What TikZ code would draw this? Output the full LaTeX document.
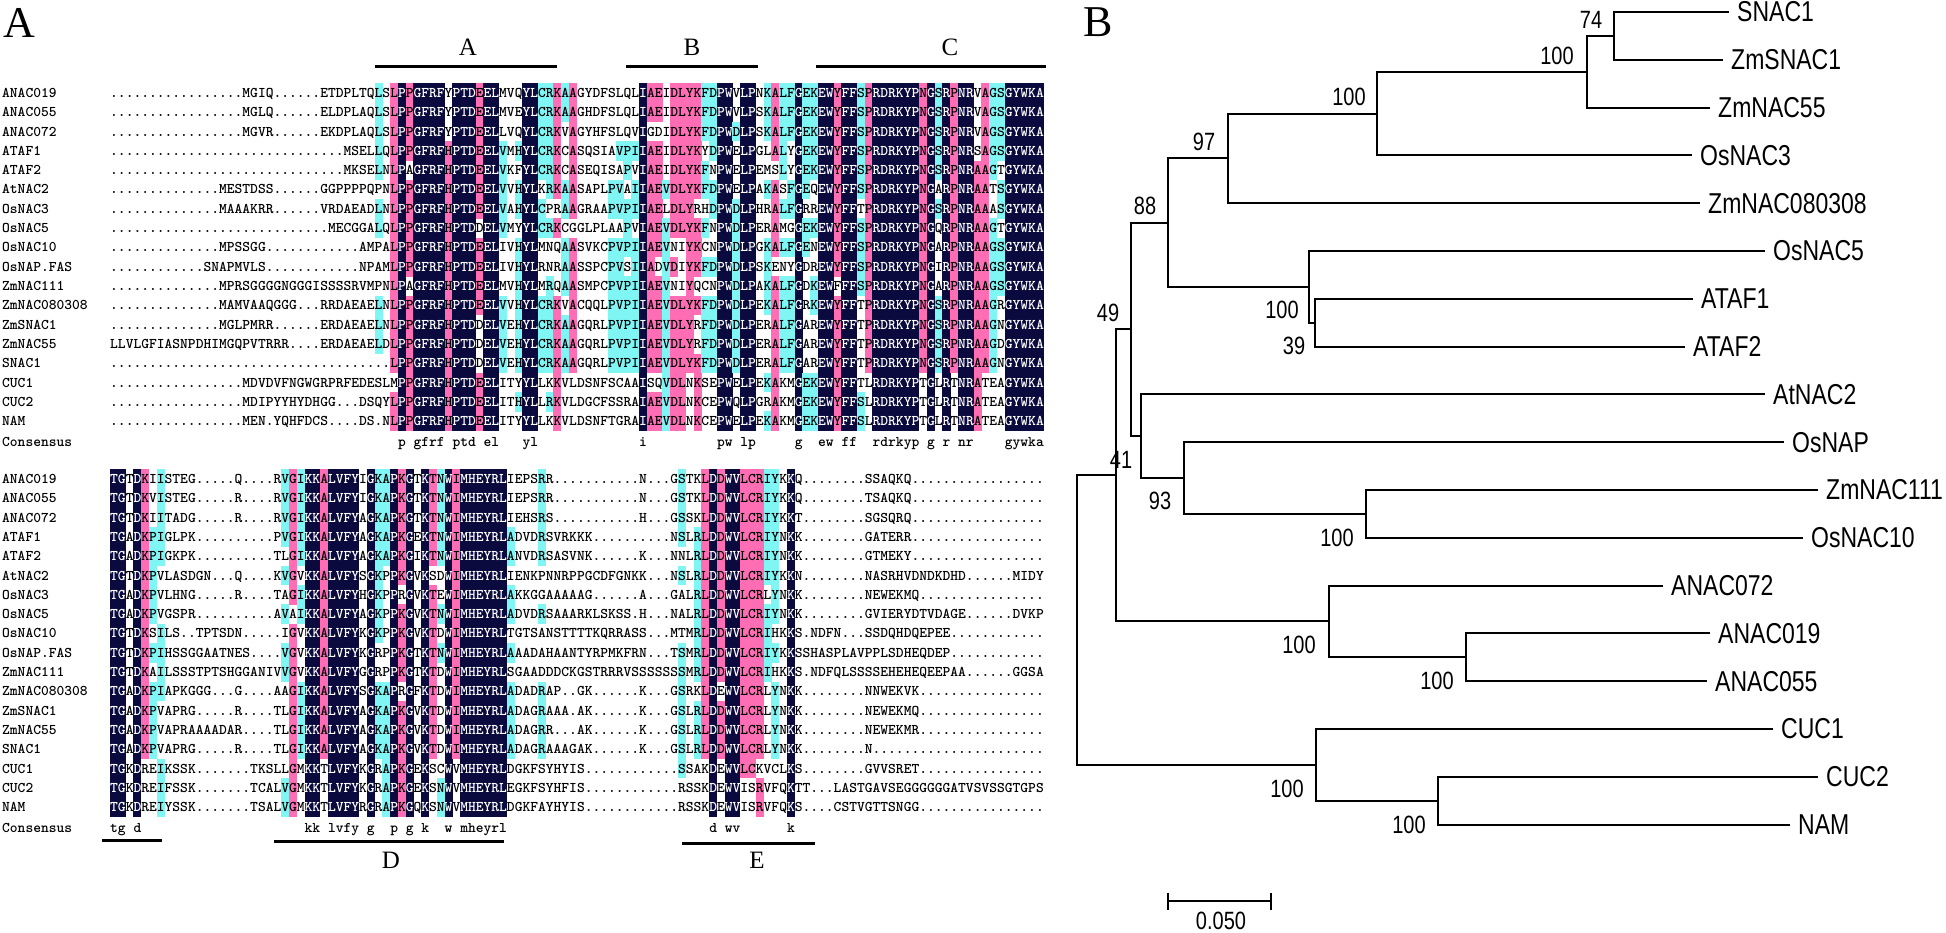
\documentclass[tikz,border=0pt]{standalone}
\usepackage{graphicx}
\usepackage{fontspec}
\newfontfamily\sanslab{Liberation Sans}
\newfontfamily\seriflab{Liberation Serif}
\definecolor{alnclsn}{HTML}{0A0A3E}
\definecolor{alnclsp}{HTML}{FF6EB4}
\definecolor{alnclsc}{HTML}{7FF6F4}
\newlength\AlnPitchLen
\setlength\AlnPitchLen{7.78pt}
\def\AlnPitch{7.78}
\def\AlnRowH{19.3}
\def\AlnBase{14.15}
\newcommand\alnfont{\fontsize{14.8}{16}\selectfont\ttfamily\bfseries}
\newcommand\AlnCh[1]{\makebox[\AlnPitchLen][c]{#1}}
\newcommand\AlnChW[1]{\makebox[\AlnPitchLen][c]{\color{white}#1}}
\newcommand\tallt[1]{\scalebox{1}[1.25]{#1}}
\newcounter{alnnode}
\tikzset{
  alntext/.style={anchor=base west,inner sep=0pt,font=\alnfont},
  tree/.style={line width=2pt},
  tiplab/.style={anchor=west,inner sep=0pt,font=\sanslab\fontsize{23}{24}\selectfont},
  boot/.style={inner sep=0pt,font=\sanslab\fontsize{20}{21}\selectfont},
  domline/.style={line width=3pt},
  domlab/.style={inner sep=0pt,font=\seriflab\fontsize{25}{26}\selectfont},
  panlab/.style={inner sep=0pt,font=\seriflab\fontsize{44}{44}\selectfont}
}
\newcommand\AlnFill[3]{\fill[#3] (#1,#2) rectangle ++(\AlnPitch+0.25,\AlnRowH+0.25);}
\newcommand\AlnText[3]{\stepcounter{alnnode}\node[alntext] (aln\arabic{alnnode}) at (#1,#2) {#3};}
\newcommand\AlnName[2]{\stepcounter{alnnode}\node[alntext] (aln\arabic{alnnode}) at (2,#1) {#2};}

\ExplSyntaxOn
\seq_new:N \g_aln_rows_seq
\seq_new:N \g_aln_names_seq
\seq_new:N \l_aln_colch_seq
\seq_new:N \l_aln_colcls_seq
\tl_new:N \l_aln_ch_tl
\tl_new:N \l_aln_cc_tl
\tl_new:N \l_aln_cls_tl
\tl_new:N \l_aln_col_tl
\tl_new:N \l_aln_text_tl
\tl_new:N \l_aln_x_tl
\tl_new:N \l_aln_y_tl
\tl_new:N \l_aln_maxch_tl
\tl_new:N \l_aln_tmp_tl
\int_new:N \l_aln_max_int
\int_new:N \l_aln_n_int
\int_new:N \l_aln_row_int
\bool_new:N \l_aln_hit_bool
\clist_const:Nn \c_aln_letters_clist {A,B,C,D,E,F,G,H,I,J,K,L,M,N,O,P,Q,R,S,T,U,V,W,X,Y,Z}

\cs_new:Npn \gp #1 { \prg_replicate:nn {#1} {.} }

\NewDocumentCommand \AlnReset { }
  { \seq_gclear:N \g_aln_rows_seq \seq_gclear:N \g_aln_names_seq }
\NewDocumentCommand \AlnAdd { m m }
  {
    \tl_set:Ne \l_aln_tmp_tl {#2}
    \tl_remove_all:Nn \l_aln_tmp_tl { ~ }
    \seq_gput_right:Nn \g_aln_names_seq {#1}
    \seq_gput_right:NV \g_aln_rows_seq \l_aln_tmp_tl
  }

\cs_new_protected:Npn \aln_compute:n #1
  {
    \seq_clear:N \l_aln_colch_seq
    \seq_clear:N \l_aln_colcls_seq
    \int_set:Nn \l_aln_n_int { \seq_count:N \g_aln_rows_seq }
    \int_step_inline:nn {#1}
      {
        \clist_map_inline:Nn \c_aln_letters_clist
          { \int_zero_new:c { l_aln_cnt_ ####1 _int } }
        \int_zero:N \l_aln_max_int
        \tl_clear:N \l_aln_maxch_tl
        \seq_map_inline:Nn \g_aln_rows_seq
          {
            \tl_set:Ne \l_aln_ch_tl { \tl_item:nn {####1} {##1} }
            \tl_if_empty:NF \l_aln_ch_tl
              {
                \str_if_eq:VnF \l_aln_ch_tl { . }
                  {
                    \int_incr:c { l_aln_cnt_ \l_aln_ch_tl _int }
                    \int_compare:nNnT
                      { \int_use:c { l_aln_cnt_ \l_aln_ch_tl _int } } > { \l_aln_max_int }
                      {
                        \int_set:Nn \l_aln_max_int
                          { \int_use:c { l_aln_cnt_ \l_aln_ch_tl _int } }
                        \tl_set_eq:NN \l_aln_maxch_tl \l_aln_ch_tl
                      }
                  }
              }
          }
        \int_compare:nNnTF { \l_aln_max_int } = { \l_aln_n_int }
          { \tl_set:Nn \l_aln_cls_tl { n } }
          {
            \int_compare:nNnTF { 4 * \l_aln_max_int } < { 3 * \l_aln_n_int }
              {
                \int_compare:nNnTF { 2 * \l_aln_max_int } < { \l_aln_n_int }
                  { \tl_set:Nn \l_aln_cls_tl { w } }
                  { \tl_set:Nn \l_aln_cls_tl { c } }
              }
              { \tl_set:Nn \l_aln_cls_tl { p } }
          }
        \seq_put_right:NV \l_aln_colch_seq \l_aln_maxch_tl
        \seq_put_right:NV \l_aln_colcls_seq \l_aln_cls_tl
      }
  }

\cs_new_protected:Npn \aln_render:nnnnn #1 #2 #3 #4 #5
  {
    \int_zero:N \l_aln_row_int
    \seq_map_inline:Nn \g_aln_rows_seq
      {
        \int_incr:N \l_aln_row_int
        \tl_set:Ne \l_aln_y_tl { \fp_eval:n { #3 + (\l_aln_row_int - 1) * #4 } }
        \tl_clear:N \l_aln_text_tl
        \int_step_inline:nn {#1}
          {
            \tl_set:Ne \l_aln_ch_tl { \tl_item:nn {##1} {####1} }
            \tl_set:Ne \l_aln_cc_tl { \seq_item:Nn \l_aln_colch_seq {####1} }
            \tl_set:Ne \l_aln_cls_tl { \seq_item:Nn \l_aln_colcls_seq {####1} }
            \bool_set_false:N \l_aln_hit_bool
            \tl_if_eq:NNT \l_aln_ch_tl \l_aln_cc_tl
              {
                \str_if_eq:VnF \l_aln_cls_tl { w }
                  { \tl_if_empty:NF \l_aln_ch_tl { \bool_set_true:N \l_aln_hit_bool } }
              }
            \bool_if:NTF \l_aln_hit_bool
              {
                \tl_set:Ne \l_aln_x_tl { \fp_eval:n { #2 + (####1 - 1) * \AlnPitch } }
                \tl_set:Ne \l_aln_col_tl { alncls \l_aln_cls_tl }
                \use:e { \exp_not:N \AlnFill { \l_aln_x_tl } { \l_aln_y_tl } { \l_aln_col_tl } }
                \str_if_eq:VnTF \l_aln_cls_tl { n }
                  { \tl_put_right:Ne \l_aln_text_tl { \exp_not:N \AlnChW { \l_aln_ch_tl } } }
                  { \tl_put_right:Ne \l_aln_text_tl { \exp_not:N \AlnCh { \l_aln_ch_tl } } }
              }
              { \tl_put_right:Ne \l_aln_text_tl { \exp_not:N \AlnCh { \l_aln_ch_tl } } }
          }
        \tl_set:Ne \l_aln_y_tl { \fp_eval:n { #3 + (\l_aln_row_int - 1) * #4 + \AlnBase } }
        \tl_set:Nn \l_aln_x_tl {#2}
        \use:e { \exp_not:N \AlnText { \l_aln_x_tl } { \l_aln_y_tl } { \exp_not:V \l_aln_text_tl } }
      }
    \seq_map_indexed_inline:Nn \g_aln_names_seq
      {
        \tl_set:Ne \l_aln_y_tl { \fp_eval:n { #3 + (##1 - 1) * #4 + \AlnBase } }
        \exp_args:NV \AlnName \l_aln_y_tl {##2}
      }
    \tl_clear:N \l_aln_text_tl
    \int_step_inline:nn {#1}
      {
        \tl_set:Ne \l_aln_cls_tl { \seq_item:Nn \l_aln_colcls_seq {##1} }
        \tl_set:Ne \l_aln_cc_tl { \seq_item:Nn \l_aln_colch_seq {##1} }
        \str_if_eq:VnTF \l_aln_cls_tl { n }
          { \tl_put_right:Ne \l_aln_text_tl { \exp_not:N \AlnCh { \exp_not:N \tex_lowercase:D { \l_aln_cc_tl } } } }
          { \tl_put_right:Nn \l_aln_text_tl { \AlnCh { } } }
      }
    \tl_set:Nn \l_aln_x_tl {#2}
    \tl_set:Nn \l_aln_y_tl {#5}
    \use:e { \exp_not:N \AlnText { \l_aln_x_tl } { \l_aln_y_tl } { \exp_not:V \l_aln_text_tl } }
    \exp_args:NV \AlnName \l_aln_y_tl {Consensus}
  }

\NewDocumentCommand \AlnDraw { m m m m m }
  { \aln_compute:n {#1} \aln_render:nnnnn {#1}{#2}{#3}{#4}{#5} }
\ExplSyntaxOff

\begin{document}
\begin{tikzpicture}[x=1pt,y=-1pt]
\fill[white] (0,0) rectangle (1946,933);
\useasboundingbox (0,0) rectangle (1946,933);

% ---------------- panel labels
\node[panlab] (panA) at (19,23) {A};
\node[panlab] (panB) at (1098,22) {B};

% ---------------- domain bars (top)
\coordinate (dA1) at (375,67); \coordinate (dA2) at (557,67);
\coordinate (dB1) at (626,67); \coordinate (dB2) at (758,67);
\coordinate (dC1) at (816,67); \coordinate (dC2) at (1046,67);
\draw[domline] (dA1) -- (dA2);
\draw[domline] (dB1) -- (dB2);
\draw[domline] (dC1) -- (dC2);
\node[domlab] (labA) at (468,47) {A};
\node[domlab] (labB) at (692,47) {B};
\node[domlab] (labC) at (950,47) {C};

% ---------------- block 1
\AlnReset
\AlnAdd{ANAC019}{\gp{17}MGIQ\gp{6}ETDPLTQLS LPPGFRFYPT DEELMVQYLC RKAAGYDFSL QLIAEIDLYK FDPWVLPNKA LFGEKEWYFF SPRDRKYPNG SRPNRVAGSG YWKA}
\AlnAdd{ANAC055}{\gp{17}MGLQ\gp{6}ELDPLAQLS LPPGFRFYPT DEELMVEYLC RKAAGHDFSL QLIAEIDLYK FDPWVLPSKA LFGEKEWYFF SPRDRKYPNG SRPNRVAGSG YWKA}
\AlnAdd{ANAC072}{\gp{17}MGVR\gp{6}EKDPLAQLS LPPGFRFYPT DEELLVQYLC RKVAGYHFSL QVIGDIDLYK FDPWDLPSKA LFGEKEWYFF SPRDRKYPNG SRPNRVAGSG YWKA}
\AlnAdd{ATAF1}{\gp{30}MSELLQ LPPGFRFHPT DEELVMHYLC RKCASQSIAV PIIAEIDLYK YDPWELPGLA LYGEKEWYFF SPRDRKYPNG SRPNRSAGSG YWKA}
\AlnAdd{ATAF2}{\gp{30}MKSELN LPAGFRFHPT DEELVKFYLC RKCASEQISA PVIAEIDLYK FNPWELPEMS LYGEKEWYFF SPRDRKYPNG SRPNRAAGTG YWKA}
\AlnAdd{AtNAC2}{\gp{14}MESTDSS\gp{6}GGPPPPQPN LPPGFRFHPT DEELVVHYLK RKAASAPLPV AIIAEVDLYK FDPWELPAKA SFGEQEWYFF SPRDRKYPNG ARPNRAATSG YWKA}
\AlnAdd{OsNAC3}{\gp{14}MAAAKRR\gp{6}VRDAEADLN LPPGFRFHPT DEELVAHYLC PRAAGRAAPV PIIAELDLYR HDPWDLPHRA LFGRREWYFF TPRDRKYPNG SRPNRAAASG YWKA}
\AlnAdd{OsNAC5}{\gp{28}MECGGALQ LPPGFRFHPT DDELVMYYLC RKCGGLPLAA PVIAEVDLYK FNPWDLPERA MGGEKEWYFF SPRDRKYPNG QRPNRAAGTG YWKA}
\AlnAdd{OsNAC10}{\gp{14}MPSSGG\gp{12}AMPA LPPGFRFHPT DEELIVHYLM NQAASVKCPV PIIAEVNIYK CNPWDLPGKA LFGENEWYFF SPRDRKYPNG ARPNRAAGSG YWKA}
\AlnAdd{OsNAP.FAS}{\gp{12}SNAPMVLS\gp{12}NPAM LPPGFRFHPT DEELIVHYLR NRAASSPCPV SIIADVDIYK FDPWDLPSKE NYGDREWYFF SPRDRKYPNG IRPNRAAGSG YWKA}
\AlnAdd{ZmNAC111}{\gp{14}MPRSGGGGNGGGISSSSRVMPN LPAGFRFHPT DEELMVHYLM RQAASMPCPV PIIAEVNIYQ CNPWDLPAKA LFGDKEWFFF SPRDRKYPNG ARPNRAAGSG YWKA}
\AlnAdd{ZmNAC080308}{\gp{14}MAMVAAQGGG\gp{3}RRDAEAELN LPPGFRFHPT DEELVVHYLC RKVACQQLPV PIIAEVDLYK FDPWDLPEKA LFGRKEWYFF TPRDRKYPNG SRPNRAAGRG YWKA}
\AlnAdd{ZmSNAC1}{\gp{14}MGLPMRR\gp{6}ERDAEAELN LPPGFRFHPT DDELVEHYLC RKAAGQRLPV PIIAEVDLYR FDPWDLPERA LFGAREWYFF TPRDRKYPNG SRPNRAAGNG YWKA}
\AlnAdd{ZmNAC55}{LLVLGFIASNPDHIMGQPVTRRR\gp{4}ERDAEAELD LPPGFRFHPT DDELVEHYLC RKAAGQRLPV PIIAEVDLYR FDPWDLPERA LFGAREWYFF TPRDRKYPNG SRPNRAAGDG YWKA}
\AlnAdd{SNAC1}{\gp{36} LPPGFRFHPT DDELVEHYLC RKAAGQRLPV PIIAEVDLYK FDPWDLPERA LFGAREWYFF TPRDRKYPNG SRPNRAAGNG YWKA}
\AlnAdd{CUC1}{\gp{17}MDVDVFNGWGRPRFEDESL MPPGFRFHPT DEELITYYLL KKVLDSNFSC AAISQVDLNK SEPWELPEKA KMGEKEWYFF TLRDRKYPTG LRTNRATEAG YWKA}
\AlnAdd{CUC2}{\gp{17}MDIPYYHYDHGG\gp{3}DSQY LPPGFRFHPT DEELITHYLL RKVLDGCFSS RAIAEVDLNK CEPWQLPGRA KMGEKEWYFF SLRDRKYPTG LRTNRATEAG YWKA}
\AlnAdd{NAM}{\gp{17}MEN.YQHFDCS\gp{4}DS.N LPPGFRFHPT DEELITYYLL KKVLDSNFTG RAIAEVDLNK CEPWELPEKA KMGEKEWYFF SLRDRKYPTG LRTNRATEAG YWKA}
\AlnDraw{120}{110}{83.35}{19.3}{446}

% ---------------- block 2
\AlnReset
\AlnAdd{ANAC019}{TGTDKIISTEG\gp{5}Q\gp{4}RVGIKKALVFYIGKAPKGTKTNWIMHEYRL IEPSRR\gp{11}N\gp{3}GSTKLDDWVLCRIYKKQ\gp{8}SSAQKQ\gp{17}}
\AlnAdd{ANAC055}{TGTDKVISTEG\gp{5}R\gp{4}RVGIKKALVFYIGKAPKGTKTNWIMHEYRL IEPSRR\gp{11}N\gp{3}GSTKLDDWVLCRIYKKQ\gp{8}TSAQKQ\gp{17}}
\AlnAdd{ANAC072}{TGTDKIITADG\gp{5}R\gp{4}RVGIKKALVFYAGKAPKGTKTNWIMHEYRL IEHSRS\gp{11}H\gp{3}GSSKLDDWVLCRIYKKT\gp{8}SGSQRQ\gp{17}}
\AlnAdd{ATAF1}{TGADKPIGLPK\gp{10}PVGIKKALVFYAGKAPKGEKTNWIMHEYRL ADVDRSVRKKK\gp{10}NSLRLDDWVLCRIYNKK\gp{8}GATERR\gp{17}}
\AlnAdd{ATAF2}{TGADKPIGKPK\gp{10}TLGIKKALVFYAGKAPKGIKTNWIMHEYRL ANVDRSASVNK\gp{6}K\gp{3}NNLRLDDWVLCRIYNKK\gp{8}GTMEKY\gp{17}}
\AlnAdd{AtNAC2}{TGTDKPVLASDGN\gp{3}Q\gp{4}KVGVKKALVFYSGKPPKGVKSDWIMHEYRL IENKPNNRPPGCDFGNKK\gp{3}NSLRLDDWVLCRIYKKN\gp{8}NASRHVDNDKDHD\gp{6}MIDY}
\AlnAdd{OsNAC3}{TGADKPVLHNG\gp{5}R\gp{4}TAGIKKALVFYHGKPPRGVKTEWIMHEYRL AKKGGAAAAAG\gp{6}A\gp{3}GALRLDDWVLCRLYNKK\gp{8}NEWEKMQ\gp{16}}
\AlnAdd{OsNAC5}{TGADKPVGSPR\gp{10}AVAIKKALVFYAGKPPKGVKTNWIMHEYRL ADVDRSAAARKLSKSS.H\gp{3}NALRLDDWVLCRIYNKK\gp{8}GVIERYDTVDAGE\gp{6}DVKP}
\AlnAdd{OsNAC10}{TGTDKSILS..TPTSDN\gp{5}IGVKKALVFYKGKPPKGVKTDWIMHEYRL TGTSANSTTTTKQRRASS\gp{3}MTMRLDDWVLCRIHKKS.NDFN\gp{3}SSDQHDQEPEE\gp{12}}
\AlnAdd{OsNAP.FAS}{TGTDKPIHSSGGAATNES\gp{4}VGVKKALVFYKGRPPKGTKTNWIMHEYRL AAADAHAANTYRPMKFRN\gp{3}TSMRLDDWVLCRIYKKS SHASPLAVPPLSDHEQDEP\gp{12}}
\AlnAdd{ZmNAC111}{TGTDKAILSSSTPTSHGGANIVV GVKKALVFYGGRPPKGTKTDWIMHEYRL SGAADDDCKGSTRRRVSSSSSSS MRLDDWVLCRIHKKS .NDFQLSSSSEHEHEQEEPAA\gp{6}GGSA}
\AlnAdd{ZmNAC080308}{TGADKPIAPKGGG\gp{3}G\gp{4}AAGIKKALVFYSGKAPRGFKTDWIMHEYRL ADADRAP..GK\gp{6}K\gp{3}GSRKLDEWVLCRLYNKK\gp{8}NNWEKVK\gp{16}}
\AlnAdd{ZmSNAC1}{TGADKPVAPRG\gp{5}R\gp{4}TLGIKKALVFYAGKAPKGVKTDWIMHEYRL ADAGRAAA.AK\gp{6}K\gp{3}GSLRLDDWVLCRLYNKK\gp{8}NEWEKMQ\gp{16}}
\AlnAdd{ZmNAC55}{TGADKPVAPRAAAADAR\gp{4}TLGIKKALVFYAGKAPKGVKTDWIMHEYRL ADAGRR...AK\gp{6}K\gp{3}GSLRLDDWVLCRLYNKK\gp{8}NEWEKMR\gp{16}}
\AlnAdd{SNAC1}{TGADKPVAPRG\gp{5}R\gp{4}TLGIKKALVFYAGKAPKGVKTDWIMHEYRL ADAGRAAAGAK\gp{6}K\gp{3}GSLRLDDWVLCRLYNKK\gp{8}N\gp{22}}
\AlnAdd{CUC1}{TGKDREIKSSK\gp{7}TKSLLGM KKTLVFYKGRAPKGEKSCWVMHEYRL DGKFSYHYIS\gp{12}SSAKDEWVLCKVCLK S\gp{8}GVVSRET\gp{16}}
\AlnAdd{CUC2}{TGKDREIFSSK\gp{7}TCALVGM KKTLVFYKGRAPKGEKSNWVMHEYRL EGKFSYHFIS\gp{12}RSSKDEWVISRVFQK TT\gp{3}LASTGAVSEGGGGGGATVSVSSGTGPS}
\AlnAdd{NAM}{TGKDREIYSSK\gp{7}TSALVGM KKTLVFYRGRAPKGQKSNWVMHEYRL DGKFAYHYIS\gp{12}RSSKDEWVISRVFQK S\gp{4}CSTVGTTSNGG\gp{16}}
\AlnDraw{120}{110}{469.35}{19.3}{832.5}

% ---------------- domain bars (bottom)
\coordinate (dT1) at (102,840); \coordinate (dT2) at (162,840);
\coordinate (dD1) at (274,841); \coordinate (dD2) at (504,841);
\coordinate (dE1) at (682,843); \coordinate (dE2) at (815,843);
\draw[domline] (dT1) -- (dT2);
\draw[domline] (dD1) -- (dD2);
\draw[domline] (dE1) -- (dE2);
\node[domlab] (labD) at (391,860) {D};
\node[domlab] (labE) at (757,860) {E};

% ---------------- tree
\coordinate (tSNAC1) at (1729,12);
\coordinate (tZmSNAC1) at (1723,59.8);
\coordinate (tZmNAC55) at (1710,107.6);
\coordinate (tOsNAC3) at (1692,155.4);
\coordinate (tZm080308) at (1700,203.2);
\coordinate (tOsNAC5) at (1765,251);
\coordinate (tATAF1) at (1693,298.8);
\coordinate (tATAF2) at (1685,346.6);
\coordinate (tAtNAC2) at (1765,394.4);
\coordinate (tOsNAP) at (1784,442.2);
\coordinate (tZmNAC111) at (1818,490);
\coordinate (tOsNAC10) at (1803,537.8);
\coordinate (tANAC072) at (1663,585.6);
\coordinate (tANAC019) at (1710,633.4);
\coordinate (tANAC055) at (1707,681.2);
\coordinate (tCUC1) at (1773,729);
\coordinate (tCUC2) at (1818,776.8);
\coordinate (tNAM) at (1790,824.6);

\coordinate (n74) at (1614,35.9);
\coordinate (n100b) at (1587,71.75);
\coordinate (n100a) at (1377,113.6);
\coordinate (n97) at (1228,158.4);
\coordinate (nATAF) at (1315,322.7);
\coordinate (nOs5) at (1309,286.85);
\coordinate (n88) at (1168,222.6);
\coordinate (nZ111) at (1366,513.9);
\coordinate (n93) at (1184,478.05);
\coordinate (nAt2) at (1141,436.2);
\coordinate (n49) at (1131,329.4);
\coordinate (nA1955) at (1466,657.3);
\coordinate (nANAC) at (1329,621.45);
\coordinate (n41) at (1116,475.4);
\coordinate (nCUC2) at (1438,800.7);
\coordinate (nCUC) at (1316,764.85);
\coordinate (nroot) at (1077,620.1);

\draw[tree] (n74) |- (tSNAC1);
\draw[tree] (n74) |- (tZmSNAC1);
\draw[tree] (n100b) |- (n74);
\draw[tree] (n100b) |- (tZmNAC55);
\draw[tree] (n100a) |- (n100b);
\draw[tree] (n100a) |- (tOsNAC3);
\draw[tree] (n97) |- (n100a);
\draw[tree] (n97) |- (tZm080308);
\draw[tree] (nATAF) |- (tATAF1);
\draw[tree] (nATAF) |- (tATAF2);
\draw[tree] (nOs5) |- (tOsNAC5);
\draw[tree] (nOs5) |- (nATAF);
\draw[tree] (n88) |- (n97);
\draw[tree] (n88) |- (nOs5);
\draw[tree] (nZ111) |- (tZmNAC111);
\draw[tree] (nZ111) |- (tOsNAC10);
\draw[tree] (n93) |- (tOsNAP);
\draw[tree] (n93) |- (nZ111);
\draw[tree] (nAt2) |- (tAtNAC2);
\draw[tree] (nAt2) |- (n93);
\draw[tree] (n49) |- (n88);
\draw[tree] (n49) |- (nAt2);
\draw[tree] (nA1955) |- (tANAC019);
\draw[tree] (nA1955) |- (tANAC055);
\draw[tree] (nANAC) |- (tANAC072);
\draw[tree] (nANAC) |- (nA1955);
\draw[tree] (n41) |- (n49);
\draw[tree] (n41) |- (nANAC);
\draw[tree] (nCUC2) |- (tCUC2);
\draw[tree] (nCUC2) |- (tNAM);
\draw[tree] (nCUC) |- (tCUC1);
\draw[tree] (nCUC) |- (nCUC2);
\draw[tree] (nroot) |- (n41);
\draw[tree] (nroot) |- (nCUC);

\node[tiplab] (lSNAC1) at ([xshift=8pt]tSNAC1) {\tallt{SNAC1}};
\node[tiplab] (lZmSNAC1) at ([xshift=8pt]tZmSNAC1) {\tallt{ZmSNAC1}};
\node[tiplab] (lZmNAC55) at ([xshift=8pt]tZmNAC55) {\tallt{ZmNAC55}};
\node[tiplab] (lOsNAC3) at ([xshift=8pt]tOsNAC3) {\tallt{OsNAC3}};
\node[tiplab] (lZm080308) at ([xshift=8pt]tZm080308) {\tallt{ZmNAC080308}};
\node[tiplab] (lOsNAC5) at ([xshift=8pt]tOsNAC5) {\tallt{OsNAC5}};
\node[tiplab] (lATAF1) at ([xshift=8pt]tATAF1) {\tallt{ATAF1}};
\node[tiplab] (lATAF2) at ([xshift=8pt]tATAF2) {\tallt{ATAF2}};
\node[tiplab] (lAtNAC2) at ([xshift=8pt]tAtNAC2) {\tallt{AtNAC2}};
\node[tiplab] (lOsNAP) at ([xshift=8pt]tOsNAP) {\tallt{OsNAP}};
\node[tiplab] (lZmNAC111) at ([xshift=8pt]tZmNAC111) {\tallt{ZmNAC111}};
\node[tiplab] (lOsNAC10) at ([xshift=8pt]tOsNAC10) {\tallt{OsNAC10}};
\node[tiplab] (lANAC072) at ([xshift=8pt]tANAC072) {\tallt{ANAC072}};
\node[tiplab] (lANAC019) at ([xshift=8pt]tANAC019) {\tallt{ANAC019}};
\node[tiplab] (lANAC055) at ([xshift=8pt]tANAC055) {\tallt{ANAC055}};
\node[tiplab] (lCUC1) at ([xshift=8pt]tCUC1) {\tallt{CUC1}};
\node[tiplab] (lCUC2) at ([xshift=8pt]tCUC2) {\tallt{CUC2}};
\node[tiplab] (lNAM) at ([xshift=8pt]tNAM) {\tallt{NAM}};

\node[boot] (b74) at (1591,20) {\tallt{74}};
\node[boot] (b100b) at (1557,56) {\tallt{100}};
\node[boot] (b100a) at (1349,97) {\tallt{100}};
\node[boot] (b97) at (1204,142) {\tallt{97}};
\node[boot] (b88) at (1145,206) {\tallt{88}};
\node[boot] (b49) at (1108,313) {\tallt{49}};
\node[boot] (b41) at (1121,460) {\tallt{41}};
\node[boot] (bOs5) at (1282,310) {\tallt{100}};
\node[boot] (b39) at (1294,346) {\tallt{39}};
\node[boot] (b93) at (1160,501) {\tallt{93}};
\node[boot] (bZ111) at (1337,538) {\tallt{100}};
\node[boot] (bANAC) at (1299,645) {\tallt{100}};
\node[boot] (bA1955) at (1437,681) {\tallt{100}};
\node[boot] (bCUC) at (1287,789) {\tallt{100}};
\node[boot] (bCUC2) at (1409,825) {\tallt{100}};

% scale bar
\coordinate (sbl) at (1168,901);
\coordinate (sbr) at (1271,901);
\draw[tree] (sbl) -- (sbr);
\draw[tree] ([yshift=8.5pt]sbl) -- ([yshift=-8.5pt]sbl);
\draw[tree] ([yshift=8.5pt]sbr) -- ([yshift=-8.5pt]sbr);
\node[boot] (sblab) at (1221,921) {\tallt{0.050}};
\end{tikzpicture}
\end{document}
